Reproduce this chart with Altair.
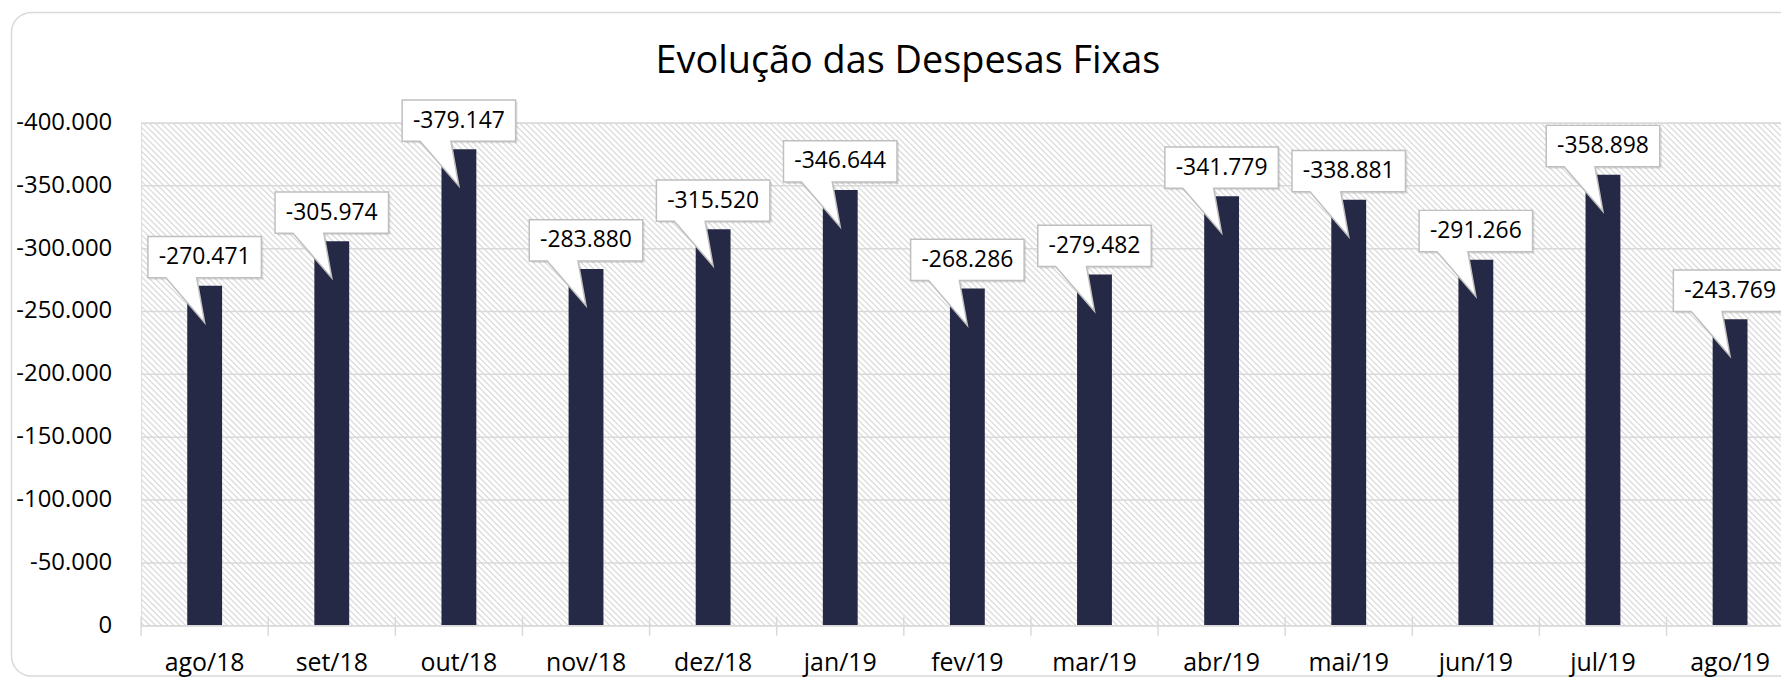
import altair as alt
import pandas as pd

# ---- data ----
months = ["ago/18", "set/18", "out/18", "nov/18", "dez/18", "jan/19", "fev/19",
          "mar/19", "abr/19", "mai/19", "jun/19", "jul/19", "ago/19"]
values = [-270471, -305974, -379147, -283880, -315520, -346644, -268286,
          -279482, -341779, -338881, -291266, -358898, -243769]
y_ticks = [0, -50000, -100000, -150000, -200000, -250000, -300000, -350000, -400000]
grid_ticks = y_ticks[1:]
title_text = "Evolução das Despesas Fixas"

df = pd.DataFrame({"mes": months, "valor": values})
grid_df = pd.DataFrame({"t": grid_ticks})
ytick_df = pd.DataFrame({"t": y_ticks})

# ---- layout / style ----
PAD_L, PAD_T, PAD_B = 133.7, 114, 52
W = 1781 - PAD_L          # visible plot width (chart is cut at the right, like the reference)
XRANGE = 1660             # full band range (13 bands of ~127.7 px)
H = 505
FONT = "Open Sans"
GRAY = "#d9d9d9"
BAR = "#252945"

def pt_fmt(field):
    return ("(datum.%s < 0 ? '-' : '') + replace(format(abs(datum.%s), ',d'), ',', '.')"
            % (field, field))

y_scale = alt.Scale(domain=[-400000, 0], reverse=True, nice=False)
x_scale = alt.Scale(paddingInner=0, paddingOuter=0, range=[0, XRANGE])

x_enc = alt.X("mes:N", sort=months, scale=x_scale, axis=None)
y_val = alt.Y("valor:Q", scale=y_scale, axis=None)

# callout shape (unit coords, scaled by sqrt(size)/2 = 60 px)
callout = ("M -0.95 -0.825 L 0.95 -0.825 L 0.95 -0.1333 L -0.1333 -0.1333 "
           "L 0 0.6167 L -0.65 -0.1333 L -0.95 -0.1333 Z")

one = alt.Data(values=[{"a": 1}])

# frame around whole chart (outline only)
frame = alt.Chart(one).mark_rect(
    cornerRadius=20, fill="white", fillOpacity=0, stroke=GRAY, strokeWidth=1.5
).encode(x=alt.value(-130.2), x2=alt.value(1690), y=alt.value(-PAD_T + 3),
         y2=alt.value(H + PAD_B - 1.5))

# title
title = alt.Chart(alt.Data(values=[{"txt": title_text}])).mark_text(
    font=FONT, fontSize=38, color="#000000", align="center", baseline="alphabetic"
).encode(x=alt.value(912 - 8 - PAD_L), y=alt.value(72 - 8 - PAD_T), text="txt:N")

# hatched background of plot area
hatch = alt.Chart(alt.sequence(-520, 1700, 6, as_="s")).transform_calculate(
    x0="datum.s", x1="datum.s + 520", y0="0", y1="520"
).mark_rule(color="#dddddd", strokeWidth=1.4, clip=True).encode(
    x=alt.X("x0:Q", scale=None, axis=None),
    x2="x1:Q",
    y=alt.Y("y0:Q", scale=None, axis=None),
    y2="y1:Q",
)

grid = alt.Chart(grid_df).mark_rule(color=GRAY, strokeWidth=1.5).encode(
    y=alt.Y("t:Q", scale=y_scale, axis=None)
)

# y tick labels
ylabels = alt.Chart(ytick_df).transform_calculate(lbl=pt_fmt("t")).mark_text(
    font=FONT, fontSize=24, color="#000000", align="right", baseline="middle"
).encode(x=alt.value(-29), y=alt.Y("t:Q", scale=y_scale, axis=None), text="lbl:N")

base = alt.Chart(df)

bars = base.mark_bar(size=35, color=BAR).encode(x=x_enc, y=y_val)

# x axis: baseline, crossing ticks at band edges, labels
xdomain = alt.Chart(one).mark_rule(color=GRAY, strokeWidth=1.5).encode(
    x=alt.value(0), x2=alt.value(XRANGE), y=alt.value(H)
)
xticks = base.mark_rule(color=GRAY, strokeWidth=1.5).encode(
    x=alt.X("mes:N", sort=months, scale=x_scale, axis=None, bandPosition=0),
    y=alt.value(H - 9), y2=alt.value(H + 10)
)
xlabels = base.mark_text(
    font=FONT, fontSize=25, color="#000000", align="center", baseline="alphabetic"
).encode(x=x_enc, y=alt.value(H + 45.5), text="mes:N")

shadow = base.mark_point(shape=callout, size=14400, filled=True, color="#000000",
                         opacity=0.10, xOffset=2, yOffset=2).encode(x=x_enc, y=y_val)
boxes = base.mark_point(shape=callout, size=14400, filled=True, fill="white",
                        stroke="#bfbfbf", strokeWidth=1.5, opacity=1).encode(x=x_enc, y=y_val)
labels = base.transform_calculate(lbl=pt_fmt("valor")).mark_text(
    font=FONT, fontSize=23, color="#000000", dy=-28.75, baseline="middle"
).encode(x=x_enc, y=y_val, text="lbl:N")

chart = alt.layer(
    frame, title, hatch, grid, ylabels, bars, xdomain, xticks, xlabels,
    shadow, boxes, labels
).properties(
    width=W, height=H,
    autosize=alt.AutoSizeParams(type="none"),
    padding={"left": PAD_L, "top": PAD_T, "right": 0, "bottom": PAD_B},
).configure_view(stroke=None).configure(background="white")

chart.save("out.html", embed_options={"renderer": "svg", "actions": False})
